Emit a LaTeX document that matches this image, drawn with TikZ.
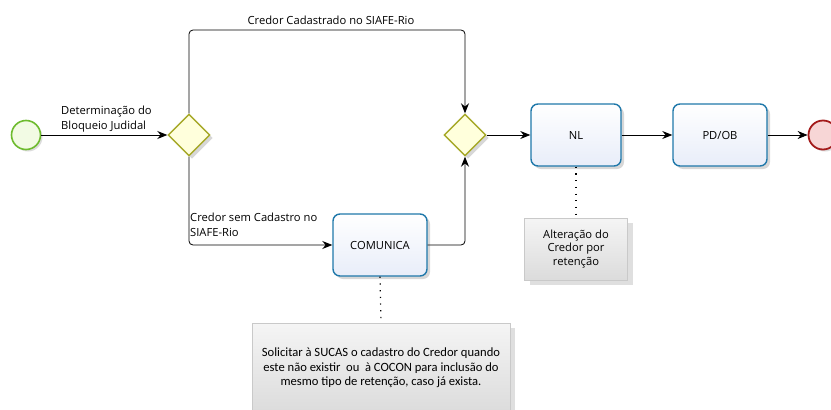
\documentclass[tikz,border=0pt]{standalone}
\usepackage{fontspec}
\setmainfont{Open Sans}
\newfontfamily\notefont{Carlito}
\usetikzlibrary{arrows.meta,shadows,shapes.geometric}
\definecolor{taskline}{HTML}{1F78AA}
\definecolor{tasktop}{HTML}{FFFFFF}
\definecolor{taskbot}{HTML}{E8EDF9}
\definecolor{gateline}{HTML}{A6A828}
\definecolor{gatefill}{HTML}{FFFFDC}
\definecolor{startline}{HTML}{6DBB2E}
\definecolor{startfill}{HTML}{F2FBE4}
\definecolor{endline}{HTML}{A31A1A}
\definecolor{endfill}{HTML}{F7D6D6}
\definecolor{noteline}{HTML}{C9C9C9}
\tikzset{
  x=1pt, y=-1pt,
  every node/.style={font=\fontsize{11.2}{15}\selectfont},
  task/.style={draw=taskline, line width=1.4pt, rounded corners=7pt,
    top color=tasktop, bottom color=taskbot,
    drop shadow={shadow xshift=3pt, shadow yshift=-3pt, fill=black!35, opacity=0.45},
    minimum width=#1, minimum height=62pt, inner sep=0pt},
  task/.default=94pt,
  gate/.style={diamond, draw=gateline, line width=1.4pt, fill=gatefill,
    minimum width=42pt, minimum height=42pt, inner sep=0pt,
    drop shadow={shadow xshift=3pt, shadow yshift=-3pt, fill=black!35, opacity=0.45}},
  startev/.style={circle, draw=startline, line width=1.6pt, fill=startfill,
    minimum size=29pt, inner sep=0pt,
    drop shadow={shadow xshift=2pt, shadow yshift=-2pt, fill=black!30, opacity=0.45}},
  endev/.style={circle, draw=endline, line width=1.8pt, fill=endfill,
    minimum size=29pt, inner sep=0pt,
    drop shadow={shadow xshift=2pt, shadow yshift=-2pt, fill=black!30, opacity=0.45}},
  note/.style={draw=noteline, line width=0.6pt, top color=white!96!black,
    bottom color=white!86!black, align=center, inner sep=0pt,
    drop shadow={shadow xshift=5pt, shadow yshift=-5pt, fill=black!25, opacity=0.5}},
  flow/.style={draw=black, line width=0.8pt, rounded corners=4pt,
    -{Stealth[length=10pt,width=8pt]}},
  assoc/.style={draw=black, line width=1.2pt, dash pattern=on 1.2pt off 5.5pt},
  lbl/.style={inner sep=0pt, align=left},
}
\begin{document}
\begin{tikzpicture}
\useasboundingbox (0,0) rectangle (831,410);

% events, gateways and tasks
\node[startev] (start) at (26,135) {};
\node[gate] (g1) at (189,135) {};
\node[gate] (g2) at (465,135) {};
\node[task] (comunica) at (380,245) {COMUNICA};
\node[task=90pt] (nl) at (576,135) {NL};
\node[task] (pdob) at (720,135) {PD/OB};
\node[endev] (end) at (823,135) {};

% text annotations
\node[note, minimum width=103pt, minimum height=62pt,
      font=\fontsize{11.2}{13.5}\selectfont] (note1) at (576,249)
  {Alteração do\\Credor por\\retenção};
\node[note, minimum width=258pt, minimum height=90pt,
      font=\notefont\fontsize{12.6}{14.5}\selectfont] (note2) at (381,368)
  {Solicitar à SUCAS o cadastro do Credor quando\\
   este não existir\ \ ou\ \ à COCON para inclusão do\\
   mesmo tipo de retenção, caso já exista.};

% sequence flows
\draw[flow] (start) -- (g1);
\draw[flow] (g1.north) |- (327,30) -- (465,30) -- (g2.north);
\draw[flow] (g1.south) |- (comunica.west);
\draw[flow] (comunica.east) -| (g2.south);
\draw[flow] (g2) -- (nl);
\draw[flow] (nl) -- (pdob);
\draw[flow] (pdob) -- (end);

% associations
\draw[assoc] (nl.south) -- (note1.north);
\draw[assoc] (comunica.south) -- (note2.north);

% flow labels
\node[lbl, anchor=west] (lstart) at (61,119.5) {Determinação do\\Bloqueio Judidal};
\node[inner sep=0pt] (ltop) at (331,20) {Credor Cadastrado no SIAFE-Rio};
\node[lbl, anchor=west] (lbot) at (190,224.5) {Credor sem Cadastro no\\SIAFE-Rio};
\end{tikzpicture}
\end{document}
